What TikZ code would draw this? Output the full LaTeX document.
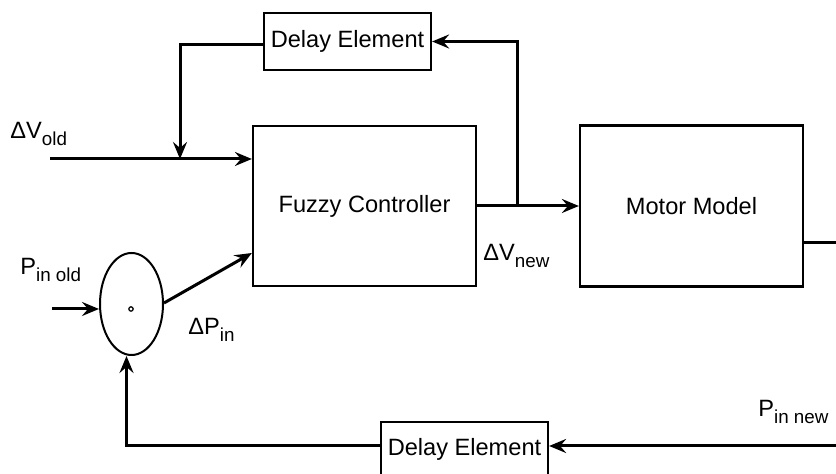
\documentclass[tikz,border=0pt]{standalone}
\usepackage{fontspec}
\setmainfont{Liberation Sans}
\usetikzlibrary{arrows.meta,shapes.geometric}
\newcommand\lowtxt[1]{\raisebox{-0.32em}{\fontsize{9.4}{10}\selectfont #1}}

\begin{document}
\begin{tikzpicture}[x=0.5pt,y=-0.5pt,
  block/.style={draw=black,line width=1.1pt,fill=white,inner sep=0pt,font=\fontsize{11.8}{14}\selectfont},
  lbl/.style={inner sep=0pt,font=\fontsize{11.8}{14}\selectfont},
  flow/.style={black,line width=1.5pt},
  tip/.style={-{Stealth[length=8.5pt,width=7pt,inset=3pt]}}]

\clip (0,0) rectangle (836,474);

% blocks:
\node[block,minimum width=83.5pt,minimum height=28.5pt] (delaytop) at (347.5,41.5) {Delay Element};
\node[block,minimum width=111.5pt,minimum height=80pt] (fuzzy) at (364.5,206) {Fuzzy Controller};
\node[block,minimum width=111.5pt,minimum height=80.5pt] (motor) at (691.5,206) {Motor Model};
\node[block,minimum width=83.5pt,minimum height=27pt] (delaybot) at (464.5,449) {Delay Element};
\node[draw=black,line width=1pt,ellipse,minimum width=31.5pt,minimum height=51pt,inner sep=0pt] (sum) at (131.5,304) {};
\draw[black,line width=0.6pt] (131,309) circle (1.1pt);

% labels:
\node[lbl,anchor=west] (vold) at (10,134) {ΔV\lowtxt{old}};
\node[lbl,anchor=west] (pinold) at (20,270) {P\lowtxt{in old}};
\node[lbl,anchor=west] (dpin) at (188,330) {ΔP\lowtxt{in}};
\node[lbl,anchor=west] (vnew) at (483,256) {ΔV\lowtxt{new}};
\node[lbl,anchor=west] (pinnew) at (758,412) {P\lowtxt{in new}};

% connectors:
\coordinate (vin) at (50,159);
\coordinate (merge) at (180,159);
\coordinate (pin) at (52,309);
\coordinate (split) at (517,206);
\coordinate (corner) at (870,243);

\draw[flow,tip] (vin) -- (vin -| fuzzy.west);
\draw[flow,tip] ([yshift=-1.5pt]delaytop.west) -| (merge);
\draw[flow,tip] (fuzzy.east) -- (motor.west);
\draw[flow,tip] (split) |- (delaytop.east);
\draw[flow,tip] (pin) -- (pin -| sum.west);
\draw[flow,tip] ([yshift=0.5pt]sum.east) -- ([yshift=-23.5pt]fuzzy.west);
\draw[flow,tip] ([yshift=-18.5pt]motor.east) -- (corner) |- ([yshift=1.5pt]delaybot.east);
\draw[flow,tip] ([yshift=1.5pt]delaybot.west) -| ([xshift=-2.5pt]sum.south);

\end{tikzpicture}
\end{document}
